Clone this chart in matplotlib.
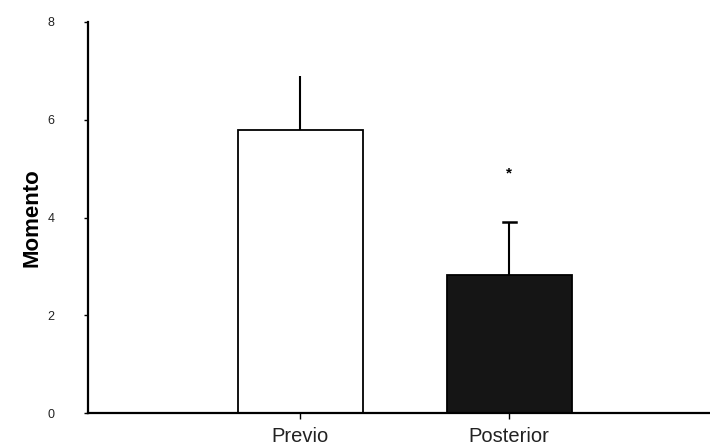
import matplotlib
matplotlib.use("Agg")
import matplotlib.pyplot as plt

plt.rcParams['font.family'] = ['Liberation Sans', 'DejaVu Sans']

# datos
grupos = ["Previo", "Posterior"]
medias = [5.8, 2.82]
errores = [1.1, 1.08]
colores = ["white", "#151515"]
y_ticks = [0, 2, 4, 6, 8]
asterisco_y = 4.9

fig = plt.figure(figsize=(7.1, 4.48), dpi=100)
ax = fig.add_axes([0.124, 0.078, 0.876, 0.873])

pos = [1, 2]
ax.bar(pos, medias, width=0.6, color=colores, edgecolor="black", linewidth=1.3, zorder=2)
# solo la barra superior del error
ax.errorbar(pos, medias, yerr=[[0, 0], errores], fmt="none", ecolor="black",
            elinewidth=1.5, capsize=0, zorder=3)
# tapa solo en la segunda barra
ax.plot([pos[1] - 0.03, pos[1] + 0.03], [medias[1] + errores[1]] * 2, color="black", lw=1.8, zorder=3)
ax.text(pos[1], asterisco_y, "*", ha="center", va="center", fontsize=11, fontweight="bold")

ax.set_xlim(-0.015, 2.96)
ax.set_ylim(0, 8)
ax.set_yticks(y_ticks)
ax.set_yticklabels([str(t) for t in y_ticks], fontsize=9, color="#222222")
ax.tick_params(axis="y", length=3, width=1, pad=21)
ax.set_xticks(pos)
ax.set_xticklabels(grupos, fontsize=14.5, color="#222222")
ax.tick_params(axis="x", length=4, width=1, pad=6)
ax.set_ylabel("Momento", fontsize=16, fontweight="bold", labelpad=4)

for s in ["top", "right"]:
    ax.spines[s].set_visible(False)
ax.spines["left"].set_linewidth(1.6)
ax.spines["bottom"].set_linewidth(1.6)

fig.savefig("out.png", dpi=100)
